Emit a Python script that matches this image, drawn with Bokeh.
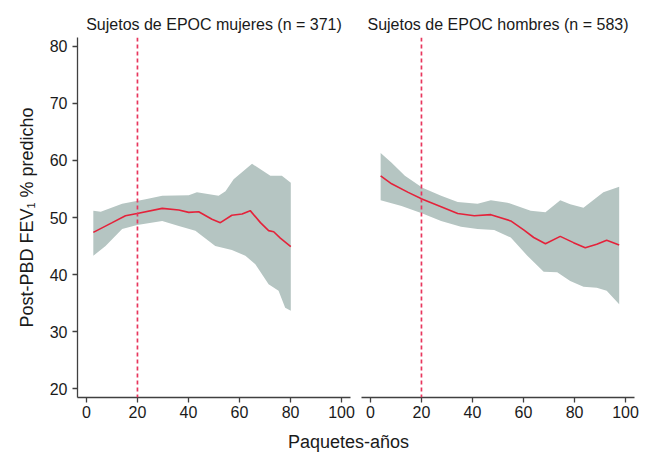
from bokeh.plotting import figure
from bokeh.layouts import row, column
from bokeh.models import Range1d, FixedTicker, Span, Label
from bokeh.embed import file_html
from bokeh.resources import INLINE

# ---- data ----
panel_titles = ["Sujetos de EPOC mujeres (n = 371)", "Sujetos de EPOC hombres (n = 583)"]
x_label = "Paquetes-años"
y_label = "Post-PBD FEV\u2081 % predicho"
x_ticks = [0, 20, 40, 60, 80, 100]
y_ticks = [20, 30, 40, 50, 60, 70, 80]
threshold = 20

fem_fit_x = [2.7, 10.1, 15.3, 19.9, 29.7, 36.2, 40.1, 44.0, 49.2, 52.5, 57.0, 61.0, 64.2, 68.2, 71.4, 73.4, 76.0, 80.1]
fem_fit_y = [47.4, 49.1, 50.3, 50.7, 51.6, 51.3, 50.9, 51.0, 49.7, 49.1, 50.4, 50.6, 51.2, 49.1, 47.7, 47.5, 46.4, 44.9]
fem_upper_x = [2.7, 5.6, 14.0, 23.2, 29.7, 40.1, 43.3, 51.8, 54.5, 57.7, 64.9, 72.1, 76.6, 80.1]
fem_upper_y = [51.2, 51.0, 52.4, 53.2, 53.8, 53.9, 54.4, 53.8, 54.6, 56.7, 59.4, 57.3, 57.3, 56.1]
fem_lower_x = [2.7, 7.5, 14.0, 19.9, 29.7, 36.2, 42.7, 50.5, 57.0, 62.3, 66.2, 71.4, 75.3, 77.9, 80.1]
fem_lower_y = [43.3, 45.0, 48.0, 48.7, 49.4, 48.5, 47.7, 45.0, 44.3, 43.3, 41.8, 38.3, 37.2, 34.2, 33.7]

male_fit_x = [4.0, 8.3, 14.8, 20.4, 27.7, 34.2, 40.7, 47.2, 55.0, 60.2, 64.0, 68.6, 74.4, 79.6, 84.2, 88.7, 92.6, 97.5]
male_fit_y = [57.3, 55.9, 54.4, 53.2, 51.9, 50.7, 50.3, 50.5, 49.4, 47.8, 46.5, 45.4, 46.7, 45.6, 44.7, 45.3, 46.0, 45.2]
male_upper_x = [4.0, 8.3, 13.5, 20.4, 27.7, 34.2, 42.0, 47.2, 53.7, 62.8, 68.6, 74.4, 78.3, 83.5, 91.3, 97.5]
male_upper_y = [61.3, 59.6, 57.3, 55.2, 53.8, 52.7, 52.4, 53.0, 52.6, 51.2, 50.9, 53.0, 52.3, 51.7, 54.4, 55.4]
male_lower_x = [4.0, 12.2, 20.4, 27.7, 35.5, 42.0, 48.5, 55.0, 61.5, 67.9, 73.2, 78.3, 83.5, 88.7, 92.6, 97.5]
male_lower_y = [53.0, 52.0, 50.7, 49.4, 48.4, 48.0, 47.8, 46.5, 43.3, 40.5, 40.4, 38.9, 37.9, 37.7, 37.2, 34.8]

FONT = "Liberation Sans"
BAND = "#b5c5c2"
RED = "#e4223a"
DASH = "#e8365d"
AXIS = "#404040"


def make_panel(title, fx, fy, ux, uy, lx, ly, with_y, width, bl, br):
    p = figure(width=width, height=425, output_backend="svg", toolbar_location=None,
               x_range=Range1d(-3.5, 103.5), y_range=Range1d(18.5, 81.5),
               y_axis_location="left" if with_y else None,
               min_border_left=bl, min_border_right=br, min_border_top=37, min_border_bottom=28)
    p.title.text = title
    p.title.align = "center"
    p.title.text_font = FONT
    p.title.text_font_size = "16px"
    p.title.text_font_style = "normal"
    p.title.text_color = "#1a1a1a"
    p.outline_line_color = None
    p.grid.visible = False
    p.background_fill_color = "white"
    p.border_fill_color = "white"

    p.patch(x=list(ux) + list(lx)[::-1], y=list(uy) + list(ly)[::-1],
            fill_color=BAND, line_color=None)
    p.line(fx, fy, line_color=RED, line_width=1.6)
    p.add_layout(Span(location=threshold, dimension="height", line_color=DASH,
                      line_width=1.7, line_dash="4 3"))

    axes = list(p.xaxis) + (list(p.yaxis) if with_y else [])
    for ax in axes:
        ax.axis_line_color = AXIS
        ax.axis_line_width = 1.3
        ax.major_tick_line_color = AXIS
        ax.major_tick_line_width = 1.3
        ax.major_tick_out = 5
        ax.major_tick_in = 0
        ax.minor_tick_line_color = None
        ax.major_label_text_font = FONT
        ax.major_label_text_font_size = "16px"
        ax.major_label_text_color = "#1a1a1a"
    p.xaxis.ticker = FixedTicker(ticks=x_ticks)
    p.xaxis.major_label_standoff = 3
    if with_y:
        p.yaxis.ticker = FixedTicker(ticks=y_ticks)
        p.yaxis.major_label_standoff = 5
        p.yaxis.axis_label = y_label
        p.yaxis.axis_label_text_font = FONT
        p.yaxis.axis_label_text_font_size = "18px"
        p.yaxis.axis_label_text_font_style = "normal"
        p.yaxis.axis_label_text_color = "#1a1a1a"
        p.yaxis.axis_label_standoff = 10
    return p


p1 = make_panel(panel_titles[0], fem_fit_x, fem_fit_y, fem_upper_x, fem_upper_y,
                fem_lower_x, fem_lower_y, True, 355, 77, 5)
p2 = make_panel(panel_titles[1], male_fit_x, male_fit_y, male_upper_x, male_upper_y,
                male_lower_x, male_lower_y, False, 295, 6, 16)

p3 = figure(width=650, height=27, output_backend="svg", toolbar_location=None,
            x_range=Range1d(0, 650), y_range=Range1d(0, 27),
            x_axis_location=None, y_axis_location=None, min_border=0)
p3.title.visible = False
p3.outline_line_color = None
p3.grid.visible = False
p3.add_layout(Label(x=348, y=11, text=x_label,
                    text_align="center", text_baseline="alphabetic", text_font=FONT,
                    text_font_size="18px", text_color="#1a1a1a"))

layout = column(row(p1, p2), p3)
open("out.html", "w").write(file_html(layout, INLINE))
